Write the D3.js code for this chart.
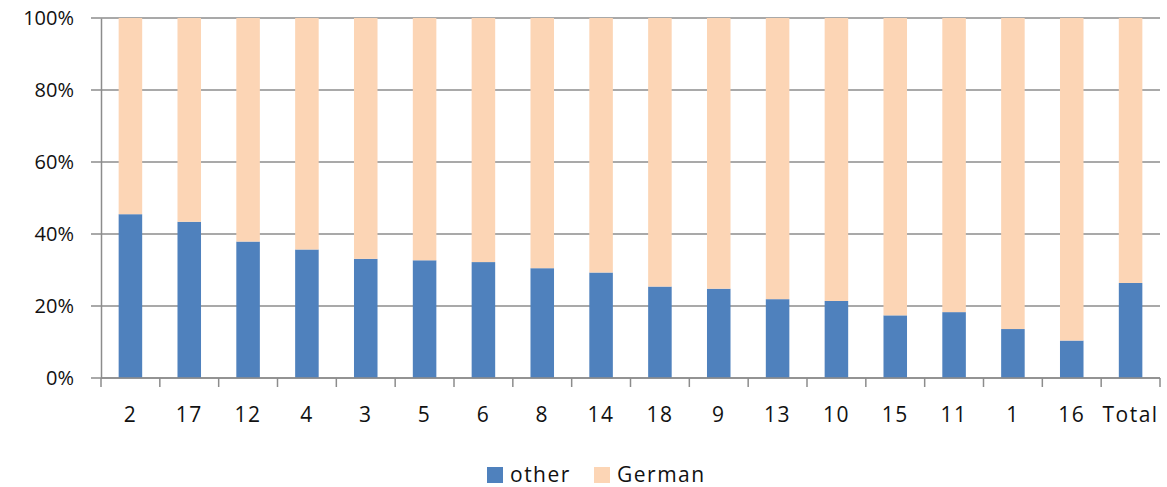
<!DOCTYPE html>
<html>
<head>
<meta charset="utf-8">
<script src="https://cdn.jsdelivr.net/npm/d3@7"></script>
<style>
  body { margin: 0; background: #fff; }
  text { font-family: "Open Sans", "Noto Sans", sans-serif; fill: #111; }
</style>
</head>
<body>
<div id="chart"></div>
<script>
// categories (in chart order) and share of "other" in percent
var categories = ["2", "17", "12", "4", "3", "5", "6", "8", "14", "18", "9", "13", "10", "15", "11", "1", "16", "Total"];
var other = [45.5, 43.4, 37.9, 35.7, 33.1, 32.7, 32.2, 30.5, 29.3, 25.4, 24.8, 21.9, 21.4, 17.4, 18.3, 13.6, 10.4, 26.4];
var german = other.map(function (v) { return 100 - v; });
var seriesNames = ["other", "German"];
var yTicks = [0, 20, 40, 60, 80, 100];

var colors = { other: "#4F81BD", German: "#FCD5B5" };

var W = 1167, H = 487;
var m = { top: 18, right: 7, bottom: 109, left: 101 };
var width = W - m.left - m.right,
    height = H - m.top - m.bottom;

var svg = d3.select("#chart").append("svg")
  .attr("width", W)
  .attr("height", H);

var g = svg.append("g")
  .attr("transform", "translate(" + m.left + "," + m.top + ")");

var x = d3.scaleBand()
  .domain(categories)
  .range([0, width])
  .paddingInner(0.6)
  .paddingOuter(0.3);

var y = d3.scaleLinear()
  .domain([0, 100])
  .range([height, 0]);

// gridlines
g.append("g").selectAll("line")
  .data(yTicks)
  .enter().append("line")
  .attr("x1", -10)
  .attr("x2", width)
  .attr("y1", function (d) { return y(d); })
  .attr("y2", function (d) { return y(d); })
  .attr("stroke", "#8c8c8c")
  .attr("stroke-width", 1.5);

// stacked data
var rows = categories.map(function (c, i) {
  return { cat: c, other: other[i], German: german[i] };
});
var stack = d3.stack().keys(seriesNames)(rows);

g.append("g").selectAll("g")
  .data(stack)
  .enter().append("g")
  .attr("fill", function (d) { return colors[d.key]; })
  .selectAll("rect")
  .data(function (d) { return d; })
  .enter().append("rect")
  .attr("x", function (d) { return x(d.data.cat); })
  .attr("width", x.bandwidth())
  .attr("y", function (d) { return y(d[1]); })
  .attr("height", function (d) { return y(d[0]) - y(d[1]); });

// y axis
var yAxis = g.append("g")
  .call(d3.axisLeft(y).tickValues(yTicks).tickFormat(function (d) { return d + "%"; }).tickSize(0).tickPadding(27));
yAxis.select(".domain").attr("stroke", "#8c8c8c").attr("stroke-width", 1.5);
yAxis.selectAll("text").style("font-size", "20px").attr("fill", "#111");

// x axis
var step = x.step();
var xAxis = g.append("g")
  .attr("transform", "translate(0," + height + ")");
xAxis.append("line")
  .attr("x1", 0).attr("x2", width)
  .attr("stroke", "#8c8c8c").attr("stroke-width", 1.5);
xAxis.selectAll(".tickmark")
  .data(d3.range(categories.length + 1))
  .enter().append("line")
  .attr("class", "tickmark")
  .attr("x1", function (i) { return i * step; })
  .attr("x2", function (i) { return i * step; })
  .attr("y1", 0).attr("y2", 9)
  .attr("stroke", "#8c8c8c").attr("stroke-width", 1.5);
xAxis.selectAll(".lbl")
  .data(categories)
  .enter().append("text")
  .attr("class", "lbl")
  .attr("x", function (d) { return x(d) + x.bandwidth() / 2; })
  .attr("y", 44)
  .attr("text-anchor", "middle")
  .style("font-size", "21px")
  .style("letter-spacing", "1.5px")
  .text(function (d) { return d; });

// legend
var legendX = [487, 594];
var legend = svg.append("g").selectAll("g")
  .data(seriesNames)
  .enter().append("g")
  .attr("transform", function (d, i) { return "translate(" + legendX[i] + ",467)"; });
legend.append("rect")
  .attr("width", 16).attr("height", 16)
  .attr("fill", function (d) { return colors[d]; });
legend.append("text")
  .attr("x", 23).attr("y", 15)
  .style("font-size", "21px")
  .style("letter-spacing", "1.5px")
  .text(function (d) { return d; });
</script>
</body>
</html>
